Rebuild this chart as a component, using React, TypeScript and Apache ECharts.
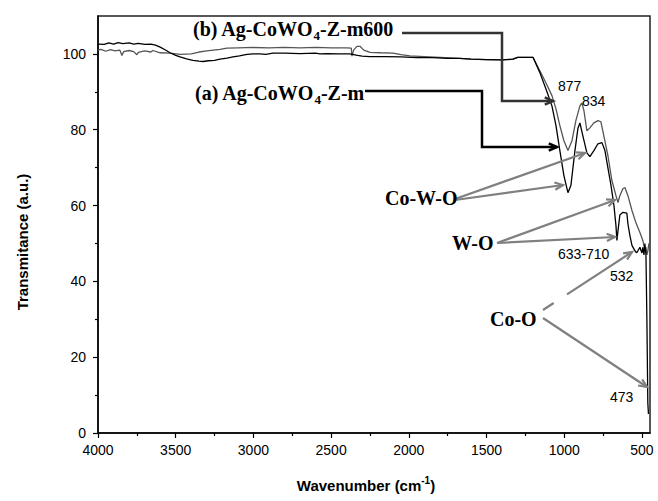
import React, { useEffect, useRef } from 'react';
import * as echarts from 'echarts';

const xTickValues = [4000, 3500, 3000, 2500, 2000, 1500, 1000, 500];
const xMinorTickValues = [3750, 3250, 2750, 2250, 1750, 1250, 750];
const yTickValues = [0, 20, 40, 60, 80, 100];
const yMinorTickValues = [10, 30, 50, 70, 90];

// (a) Ag-CoWO4-Z-m  (black)
const curveA: number[][] = [
  [4000, 102.6], [3960, 102.5], [3930, 102.9], [3900, 102.6], [3870, 103.0], [3840, 102.7],
  [3800, 102.9], [3770, 102.6], [3740, 102.8], [3700, 102.5], [3660, 102.6], [3630, 102.3],
  [3600, 101.8], [3560, 100.9], [3537, 100.3], [3500, 99.6], [3472, 99.2], [3430, 98.7],
  [3389, 98.3], [3350, 98.1], [3324, 98.0], [3290, 98.2], [3250, 98.3], [3215, 98.6],
  [3170, 98.9], [3131, 99.2], [3090, 99.5], [3041, 99.9], [3000, 100.0], [2958, 100.0],
  [2920, 99.9], [2874, 100.2], [2800, 100.2], [2700, 100.1], [2600, 100.2], [2572, 100.0],
  [2527, 100.1], [2450, 100.0], [2380, 100.0], [2330, 99.6], [2300, 99.4], [2250, 99.3],
  [2150, 99.3], [2050, 99.2], [1950, 99.0], [1850, 99.0], [1750, 98.8], [1671, 98.8],
  [1600, 98.6], [1500, 98.5], [1400, 98.4], [1330, 98.6], [1300, 99.1], [1201, 99.1],
  [1156, 95.0], [1118, 90.8], [1079, 86.3], [1053, 81.1], [1028, 74.5], [1002, 67.9],
  [976, 63.4], [957, 65.3], [931, 74.5], [912, 80.3], [899, 81.8], [880, 78.4],
  [854, 73.9], [835, 72.9], [809, 74.5], [783, 76.3], [757, 76.6], [738, 74.5],
  [719, 70.0], [699, 65.3], [680, 60.0], [667, 54.7], [661, 50.8], [655, 53.0],
  [642, 57.5], [622, 58.2], [597, 58.0], [590, 55.2], [577, 52.0], [564, 49.5],
  [551, 48.5], [539, 47.7], [532, 47.6], [513, 49.0], [500, 47.5], [494, 49.0],
  [487, 47.0], [481, 50.0], [474, 47.0], [468, 30.0], [462, 8.0], [458, 5.0]
];

// (b) Ag-CoWO4-Z-m600  (grey)
const curveB: number[][] = [
  [4000, 101.0], [3980, 101.2], [3950, 100.7], [3920, 101.1], [3890, 100.8], [3860, 101.0],
  [3846, 99.6], [3835, 100.6], [3800, 100.9], [3770, 100.6], [3750, 99.8], [3740, 100.4],
  [3700, 100.8], [3660, 100.5], [3646, 100.9], [3600, 100.3], [3537, 100.2], [3472, 99.9],
  [3400, 100.0], [3350, 100.5], [3300, 100.8], [3215, 101.2], [3170, 101.5], [3100, 101.6],
  [3000, 101.7], [2900, 101.6], [2800, 101.7], [2700, 101.6], [2600, 101.7], [2500, 101.6],
  [2400, 101.6], [2370, 101.5], [2366, 99.4], [2355, 101.0], [2334, 102.0], [2314, 102.0],
  [2290, 101.0], [2250, 100.4], [2180, 100.3], [2102, 100.2], [2050, 99.8], [1993, 99.5],
  [1900, 99.3], [1800, 99.1], [1700, 98.9], [1600, 98.6], [1500, 98.5], [1400, 98.4],
  [1330, 98.6], [1300, 99.1], [1201, 99.1],
  [1156, 95.5], [1118, 92.4], [1079, 89.0], [1053, 85.5], [1028, 81.1], [1002, 77.1],
  [976, 74.5], [950, 77.1], [925, 82.4], [899, 86.3], [886, 87.1], [873, 85.0],
  [854, 79.7], [835, 80.5], [809, 81.8], [783, 82.4], [764, 82.1], [745, 78.4],
  [719, 73.2], [693, 66.6], [667, 62.6], [654, 60.8], [642, 62.6], [622, 64.5],
  [609, 64.7], [590, 62.6], [564, 58.7], [539, 55.5], [513, 52.9], [494, 50.8],
  [481, 48.2], [474, 49.0], [468, 47.0], [462, 48.0], [455, 50.0]
];

const SERIF = "'Liberation Serif', 'Times New Roman', serif";
const SANS = "'Liberation Sans', Arial, sans-serif";

function arrow(x1: number, y1: number, x2: number, y2: number, color: string, width: number, head = 9, gap?: number[]) {
  const a = Math.atan2(y2 - y1, x2 - x1);
  const spread = 0.42;
  const p1 = [x2 - head * Math.cos(a - spread), y2 - head * Math.sin(a - spread)];
  const p2 = [x2 - head * Math.cos(a + spread), y2 - head * Math.sin(a + spread)];
  const lines: any[] = [];
  if (gap) {
    const [t0, t1] = gap;
    lines.push({ type: 'line', shape: { x1, y1, x2: x1 + (x2 - x1) * t0, y2: y1 + (y2 - y1) * t0 }, style: { stroke: color, lineWidth: width }, z: 10 });
    lines.push({ type: 'line', shape: { x1: x1 + (x2 - x1) * t1, y1: y1 + (y2 - y1) * t1, x2, y2 }, style: { stroke: color, lineWidth: width }, z: 10 });
  } else {
    lines.push({ type: 'line', shape: { x1, y1, x2, y2 }, style: { stroke: color, lineWidth: width }, z: 10 });
  }
  lines.push({ type: 'polyline', shape: { points: [p1, [x2, y2], p2] }, style: { stroke: color, lineWidth: width, fill: null }, z: 10 });
  return lines;
}

function connector(points: number[][], color: string, width: number) {
  const n = points.length;
  const [x1, y1] = points[n - 2];
  const [x2, y2] = points[n - 1];
  const parts = arrow(x1, y1, x2, y2, color, width, 9);
  const head = parts[parts.length - 1];
  return [
    { type: 'polyline', shape: { points }, style: { stroke: color, lineWidth: width, fill: null }, z: 10 },
    head
  ];
}

function label(text: string, x: number, y: number, size = 14, font = SANS, weight: any = 'normal', align = 'left') {
  return {
    type: 'text', x, y, z: 11,
    style: { text, fontSize: size, fontFamily: font, fontWeight: weight, fill: '#000', align, verticalAlign: 'middle' }
  };
}

export default function App() {
  const ref = useRef<HTMLDivElement>(null);
  useEffect(() => {
    if (!ref.current) return;
    const chart = echarts.init(ref.current, null, { renderer: 'svg' });
    const richTitle = {
      t: { fontFamily: SERIF, fontWeight: 'bold', fontSize: 20, lineHeight: 26, fill: '#000' },
      s: { fontFamily: SERIF, fontWeight: 'bold', fontSize: 13, lineHeight: 13, verticalAlign: 'bottom', fill: '#000' }
    };
    const grey = '#808080';
    chart.setOption({
      animation: false,
      backgroundColor: '#fff',
      grid: { left: 98, top: 16, width: 552, height: 417, show: true, borderColor: '#222', borderWidth: 1.5, backgroundColor: 'transparent' },
      xAxis: [
        {
          type: 'value', inverse: true, min: 448, max: 4000,
          axisLine: { show: true, lineStyle: { color: '#000', width: 1.5 } },
          axisTick: { show: true, length: 5, customValues: xTickValues, lineStyle: { color: '#000', width: 1.2 } },
          axisLabel: { customValues: xTickValues, margin: 10, fontSize: 14, fontFamily: SANS, color: '#000', formatter: (v: number) => String(v) },
          splitLine: { show: false }
        },
        {
          type: 'value', inverse: true, min: 448, max: 4000, position: 'bottom',
          axisLine: { show: false },
          axisTick: { show: true, length: 3, customValues: xMinorTickValues, lineStyle: { color: '#000', width: 1.2 } },
          axisLabel: { show: false },
          splitLine: { show: false }
        }
      ],
      yAxis: [
        {
          type: 'value', min: 0, max: 110,
          axisLine: { show: true, lineStyle: { color: '#000', width: 1.5 } },
          axisTick: { show: true, length: 5, customValues: yTickValues, lineStyle: { color: '#000', width: 1.2 } },
          axisLabel: { customValues: yTickValues, margin: 12, fontSize: 14, fontFamily: SANS, color: '#000', formatter: (v: number) => String(v) },
          splitLine: { show: false }
        },
        {
          type: 'value', min: 0, max: 110, position: 'left',
          axisLine: { show: false },
          axisTick: { show: true, length: 3, customValues: yMinorTickValues, lineStyle: { color: '#000', width: 1.2 } },
          axisLabel: { show: false },
          splitLine: { show: false }
        }
      ],
      series: [
        {
          name: '(a) Ag-CoWO4-Z-m', type: 'line', data: curveA, showSymbol: false,
          lineStyle: { color: '#000', width: 1.3 }, z: 3
        },
        {
          name: '(b) Ag-CoWO4-Z-m600', type: 'line', data: curveB, showSymbol: false,
          lineStyle: { color: '#555', width: 1.3 }, z: 2
        }
      ],
      graphic: [
        {
          type: 'text', x: 22, y: 242, rotation: Math.PI / 2, z: 11,
          style: { text: 'Transmitance (a.u.)', fontSize: 15, fontWeight: 'bold', fontFamily: SANS, fill: '#000', align: 'center', verticalAlign: 'middle' }
        },
        {
          type: 'text', x: 366, y: 485, z: 11,
          style: {
            text: '{t|Wavenumber (cm}{p|-1}{t|)}', align: 'center', verticalAlign: 'middle',
            rich: {
              t: { fontSize: 15, fontWeight: 'bold', fontFamily: SANS, fill: '#000', lineHeight: 20 },
              p: { fontSize: 10, fontWeight: 'bold', fontFamily: SANS, fill: '#000', lineHeight: 10, verticalAlign: 'top' }
            }
          }
        },
        {
          type: 'text', x: 193, y: 29, z: 11,
          style: { text: '{t|(b) Ag-CoWO}{s|4}{t|-Z-m600}', align: 'left', verticalAlign: 'middle', rich: richTitle }
        },
        {
          type: 'text', x: 195, y: 93, z: 11,
          style: { text: '{t|(a) Ag-CoWO}{s|4}{t|-Z-m}', align: 'left', verticalAlign: 'middle', rich: richTitle }
        },
        ...connector([[402, 33], [502, 33], [502, 101], [553, 101]], '#333', 2.5),
        ...connector([[365, 91], [482, 91], [482, 147], [557, 147]], '#000', 2.5),
        label('877', 558, 86), label('834', 582, 101),
        label('Co-W-O', 385, 198, 20, SERIF, 'bold'),
        ...arrow(455, 199, 585, 153, grey, 2.2),
        ...arrow(455, 200, 563, 185, grey, 2.2),
        label('W-O', 452, 243, 20, SERIF, 'bold'),
        ...arrow(497, 243, 615, 200, grey, 2.2),
        ...arrow(497, 243, 615, 237, grey, 2.2),
        label('633-710', 558, 254),
        label('532', 610, 276),
        label('Co-O', 490, 319, 20, SERIF, 'bold'),
        ...arrow(543, 310, 632, 252, grey, 2.2, 9, [0.12, 0.27]),
        ...arrow(543, 318, 647, 387, grey, 2.2),
        label('473', 610, 397)
      ]
    });
    return () => chart.dispose();
  }, []);
  return <div ref={ref} style={{ position: 'fixed', left: 0, top: 0, width: 658, height: 501, background: '#fff' }} />;
}
